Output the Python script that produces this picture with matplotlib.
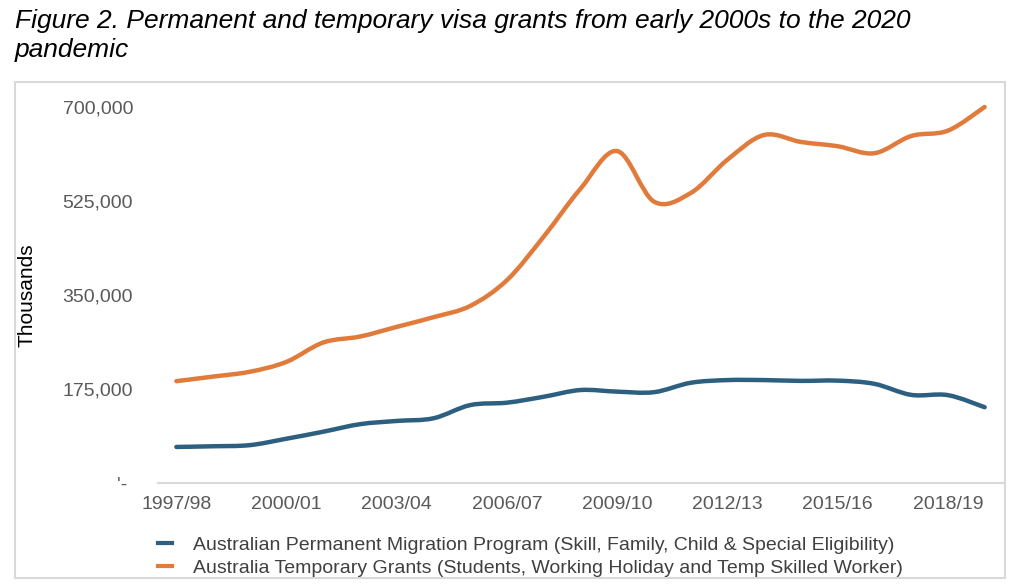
import matplotlib
matplotlib.use("Agg")
import matplotlib.pyplot as plt
from matplotlib.path import Path
from matplotlib.patches import PathPatch, Rectangle
from matplotlib.lines import Line2D
import numpy as np

plt.rcParams['font.family'] = ['Liberation Sans', 'DejaVu Sans']

years = ["1997/98", "1998/99", "1999/00", "2000/01", "2001/02", "2002/03", "2003/04",
         "2004/05", "2005/06", "2006/07", "2007/08", "2008/09", "2009/10", "2010/11",
         "2011/12", "2012/13", "2013/14", "2014/15", "2015/16", "2016/17", "2017/18",
         "2018/19", "2019/20"]
permanent = [67600, 68900, 71000, 83000, 96000, 110000, 116000, 121000, 145500, 150000,
             161000, 173500, 170500, 169500, 187000, 192000, 192000, 190500, 191000,
             185000, 164500, 164000, 141500]
temporary = [190000, 198500, 207500, 226000, 262000, 273000, 291000, 309000, 330000,
             378000, 459000, 548000, 618000, 524000, 540000, 602000, 648000, 635000,
             627000, 614000, 646000, 656000, 700000]
yticks = [0, 175000, 350000, 525000, 700000]
ytick_labels = ["'- ", "175,000", "350,000", "525,000", "700,000"]
series_names = ["Australian Permanent Migration Program (Skill, Family, Child & Special Eligibility)",
                "Australia Temporary Grants (Students, Working Holiday and Temp Skilled Worker)"]
colors = ["#2D5F80", "#E07B3C"]
title_lines = ["Figure 2. Permanent and temporary visa grants from early 2000s to the 2020",
               "pandemic"]

W, H = 1024, 588
fig = plt.figure(figsize=(W / 100, H / 100), dpi=100)
fig.patch.set_facecolor("white")

# chart border
fig.patches.append(Rectangle((15 / W, 1 - 578 / H), (1005 - 15) / W, (578 - 82) / H,
                             transform=fig.transFigure, fill=False,
                             edgecolor="#D9D9D9", linewidth=1.5))

ax = fig.add_axes([158 / W, 1 - 483.3 / H, (1003 - 158) / W, (483.3 - 107) / H])
ax.set_facecolor("none")


def smooth_path(xs, ys):
    pts = np.column_stack([xs, ys]).astype(float)
    n = len(pts)
    verts = [pts[0]]
    codes = [Path.MOVETO]
    for i in range(n - 1):
        p0 = pts[i - 1] if i > 0 else pts[i]
        p1 = pts[i]
        p2 = pts[i + 1]
        p3 = pts[i + 2] if i + 2 < n else pts[i + 1]
        c1 = p1 + (p2 - p0) / 6.0
        c2 = p2 - (p3 - p1) / 6.0
        verts += [c1, c2, p2]
        codes += [Path.CURVE4] * 3
    return Path(verts, codes)


x = np.arange(len(years))
for vals, c in zip([permanent, temporary], colors):
    patch = PathPatch(smooth_path(x, vals), fill=False, edgecolor=c, linewidth=3.2,
                      capstyle="round", joinstyle="round", clip_on=False, zorder=3)
    ax.add_patch(patch)

ax.set_xlim(-0.5, len(years) - 0.5)
ax.set_ylim(0, 700000)
ax.set_xticks(x[::3])
ax.set_xticklabels(years[::3])
ax.set_yticks(yticks)
ax.set_yticklabels(ytick_labels)
ax.tick_params(axis="both", length=0, labelsize=14, labelcolor="#595959")
ax.tick_params(axis="x", pad=9)
ax.tick_params(axis="y", pad=18)
for s in ["top", "right", "left"]:
    ax.spines[s].set_visible(False)
ax.spines["bottom"].set_color("#D9D9D9")
ax.spines["bottom"].set_linewidth(1.5)

fig.text(27 / W, 1 - 295 / H, "Thousands", rotation=90, ha="center", va="center",
         fontsize=15, color="black")

fig.text(15 / W, 1 - 28 / H, title_lines[0], fontsize=19, style="italic",
         color="black", va="baseline", ha="left")
fig.text(15 / W, 1 - 57 / H, title_lines[1], fontsize=19, style="italic",
         color="black", va="baseline", ha="left")

handles = [Line2D([], [], color=c, linewidth=3) for c in colors]
fig.legend(handles, series_names, loc="upper left",
           bbox_to_anchor=(158 / W, 1 - 536 / H), frameon=False, fontsize=14,
           handlelength=0.72, handletextpad=1.1, labelspacing=0.28,
           borderpad=0, borderaxespad=0, labelcolor="#404040")

fig.savefig("out.png", dpi=100, facecolor="white")
